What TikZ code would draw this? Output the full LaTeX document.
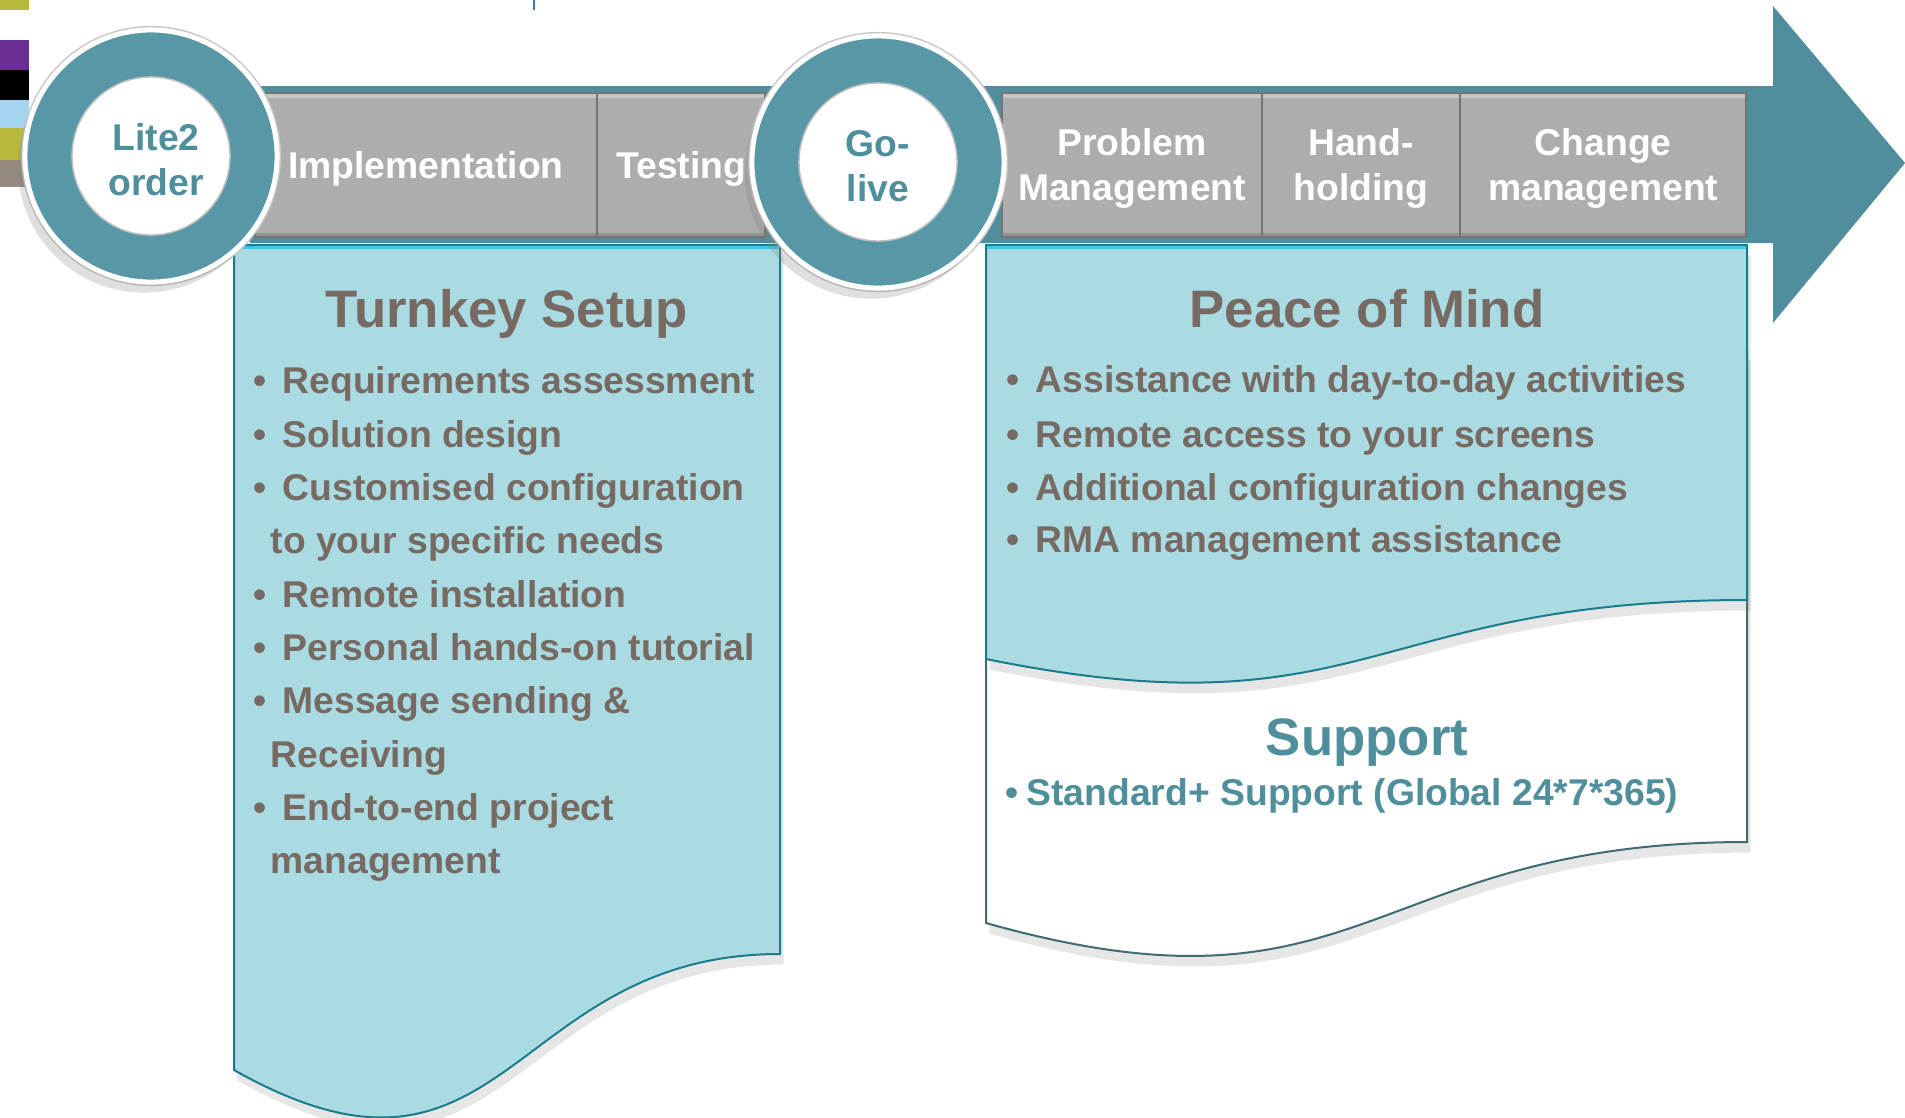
\documentclass[tikz,border=0pt]{standalone}
\usepackage{fontspec}
\setmainfont{Liberation Sans}
\usetikzlibrary{positioning,shadows}

\definecolor{arrowteal}{HTML}{508E9B}
\definecolor{ringteal}{HTML}{5898A6}
\definecolor{boxgray}{HTML}{ADADAD}
\definecolor{boxedge}{HTML}{747474}
\definecolor{panelblue}{HTML}{AADBE2}
\definecolor{paneledge}{HTML}{1B7C8E}
\definecolor{panelhi}{HTML}{3CC8E6}
\definecolor{supportedge}{HTML}{3F6B72}
\definecolor{taupe}{HTML}{766A63}
\definecolor{tealtext}{HTML}{4F8F9C}
\definecolor{markolive}{HTML}{B8B83C}
\definecolor{markpurple}{HTML}{6A2E92}
\definecolor{markblue}{HTML}{A4D3EF}
\definecolor{marktaupe}{HTML}{958A80}
\definecolor{tickblue}{HTML}{3A7BB5}

\newcommand{\itemfont}{\bfseries\fontsize{10.6}{12.8}\selectfont}
\newcommand{\headfont}{\bfseries\fontsize{15}{18}\selectfont}
\newcommand{\blt}{\makebox[0.29cm][l]{\textbullet}}
\newcommand{\lift}{\rule{0pt}{0.345cm}}

\begin{document}
\begin{tikzpicture}[x=0.01cm, y=-0.01cm,
  phase/.style={rectangle, fill=boxgray, draw=boxedge, line width=0.02cm,
    minimum height=1.44cm, inner sep=0pt, outer sep=0pt,
    text=white, align=center, font=\itemfont,
    path picture={
      \fill[white, opacity=0.3] (path picture bounding box.north west)
        rectangle ([yshift=-0.05cm]path picture bounding box.north east);
      \fill[black, opacity=0.15] (path picture bounding box.south west)
        rectangle ([yshift=0.04cm]path picture bounding box.south east);}},
  milestone/.style={circle, fill=ringteal, draw=white, line width=0.05cm,
    preaction={draw=black!22, line width=0.08cm},
    drop shadow={shadow xshift=-2pt, shadow yshift=-3pt, opacity=0.25},
    minimum size=2.52cm, inner sep=0pt,
    text=tealtext, align=center, font=\itemfont,
    path picture={\draw[fill=white, draw=black!25, line width=0.015cm]
      (path picture bounding box.center) circle (0.79cm);}},
  panel/.style={fill=panelblue, draw=paneledge, line width=0.02cm,
    drop shadow={shadow xshift=1pt, shadow yshift=-3pt, opacity=0.2}},
  supportpanel/.style={fill=white, draw=supportedge, line width=0.02cm,
    drop shadow={shadow xshift=1pt, shadow yshift=-3pt, opacity=0.2}},
  heading/.style={anchor=base, inner sep=0pt, text=taupe, font=\headfont},
  item/.style={anchor=base west, inner sep=0pt, text=taupe, font=\itemfont}]

  \useasboundingbox (0,0) rectangle (1905,1117);

  % colour marks and tick
  \fill[markolive] (0,0) rectangle (29,10);
  \fill[markpurple] (0,40) rectangle (29,70);
  \fill[black] (0,70) rectangle (29,100);
  \fill[markblue] (0,100) rectangle (29,128);
  \fill[markolive] (0,128) rectangle (29,160);
  \fill[marktaupe] (0,160) rectangle (29,187);
  \draw[tickblue, line width=0.02cm] (534,0) -- (534,10);

  % big arrow
  \fill[arrowteal] (250,86) -- (1773,86) -- (1773,6) -- (1905,163)
    -- (1773,323) -- (1773,243) -- (250,243) -- cycle;

  % phases
  \node[phase, minimum width=3.42cm] (impl) at (426,165) {\lift Implementation};
  \node[phase, minimum width=1.68cm] (testing) [right=0pt of impl] {\lift Testing};
  \node[phase, minimum width=2.60cm] (probmgmt) at (1132,165) {\lift Problem\\Management};
  \node[phase, minimum width=1.98cm] (handhold) [right=0pt of probmgmt] {\lift Hand-\\holding};
  \node[phase, minimum width=2.86cm] (changemgmt) [right=0pt of handhold] {\lift Change\\management};

  % panels
  \draw[supportpanel] (986,350) -- (1747,350) -- (1747,842)
    .. controls (1366,842) and (1366,1030) .. (986,923) -- cycle;
  \draw[panel] (986,245) -- (1747,245) -- (1747,600)
    .. controls (1366,600) and (1366,736) .. (986,659) -- cycle;
  \draw[panel] (234,245) -- (780,245) -- (780,954)
    .. controls (507,954) and (507,1224) .. (234,1070) -- cycle;
  \draw[panelhi, line width=0.03cm] (235,247) -- (779,247);
  \draw[panelhi, line width=0.03cm] (987,247) -- (1746,247);

  % milestones
  \node[milestone] (lite) at (151,156)
    {\lift\hspace*{0.1cm}Lite2\\\hspace*{0.1cm}order};
  \node[milestone] (golive) at (878,162) {\lift Go-\\live};

  % turnkey setup
  \node[heading] (turnkey) at (507,327) {Turnkey Setup};
  \node[item] (tk1) at (253,393) {\blt Requirements assessment};
  \node[item] (tk2) at (253,447) {\blt Solution design};
  \node[item] (tk3) at (253,500) {\blt Customised configuration};
  \node[item] (tk3b) at (270,553) {to your specific needs};
  \node[item] (tk4) at (253,607) {\blt Remote installation};
  \node[item] (tk5) at (253,660) {\blt Personal hands-on tutorial};
  \node[item] (tk6) at (253,713) {\blt Message sending \&};
  \node[item] (tk6b) at (270,767) {Receiving};
  \node[item] (tk7) at (253,820) {\blt End-to-end project};
  \node[item] (tk7b) at (270,873) {management};

  % peace of mind
  \node[heading] (peace) at (1367,327) {Peace of Mind};
  \node[item] (pc1) at (1006,392) {\blt Assistance with day-to-day activities};
  \node[item] (pc2) at (1006,447) {\blt Remote access to your screens};
  \node[item] (pc3) at (1006,500) {\blt Additional configuration changes};
  \node[item] (pc4) at (1006,552) {\blt RMA management assistance};

  % support
  \node[heading, text=tealtext] (support) at (1367,755) {Support};
  \node[item, text=tealtext] (sp1) at (1005,805)
    {\makebox[0.21cm][l]{\textbullet}Standard+ Support (Global 24*7*365)};

\end{tikzpicture}
\end{document}
